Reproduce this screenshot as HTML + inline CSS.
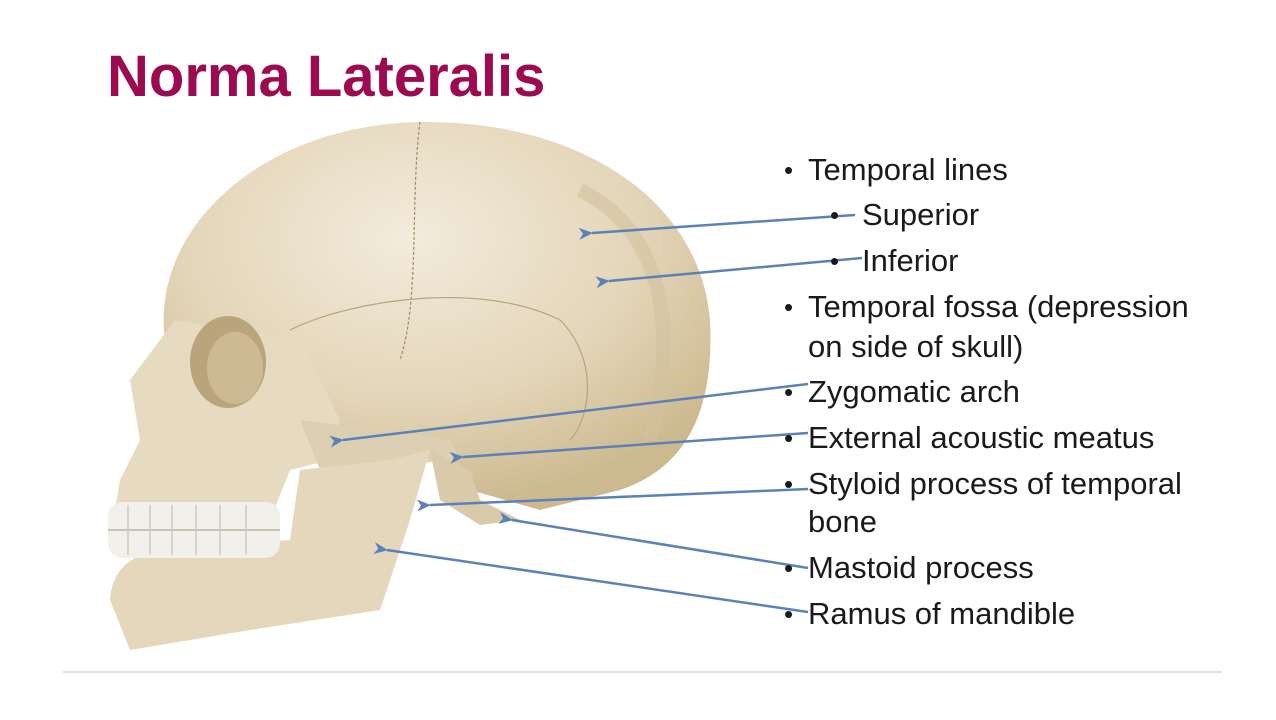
<!DOCTYPE html>
<html><head><meta charset="utf-8"><style>
body{margin:0;width:1276px;height:720px;background:#fff;overflow:hidden;position:relative;font-family:"Liberation Sans",sans-serif}
h1{position:absolute;left:107px;top:43px;margin:0;font-size:58px;font-weight:bold;color:#9c0a50;letter-spacing:0}
.t{position:absolute;font-size:31px;color:#1a1a1a;white-space:nowrap;line-height:34px}
.d{position:absolute;font-size:26px;color:#1a1a1a;line-height:26px}
</style></head><body>
<h1>Norma Lateralis</h1>
<svg width="1276" height="720" style="position:absolute;left:0;top:0">
<defs>
<radialGradient id="g" cx="0.45" cy="0.3" r="0.7"><stop offset="0" stop-color="#f3ebdc"/><stop offset="0.6" stop-color="#e3d5b8"/><stop offset="1" stop-color="#cdb98f"/></radialGradient>
<marker id="a" markerWidth="14" markerHeight="12" refX="1" refY="6" orient="auto-start-reverse" markerUnits="userSpaceOnUse"><path d="M0,6 L14,0 L10,6 L14,12Z" fill="#5b82b8"/></marker>
</defs>
<path d="M165,340 C150,230 260,125 420,122 C580,120 700,200 710,320 C715,420 680,470 620,490 L540,510 L470,490 L420,450 L300,440 Z" fill="url(#g)"/>
<path d="M420,122 C410,200 420,300 400,360" stroke="#a08a60" stroke-width="1.2" fill="none" stroke-dasharray="3,2"/>
<path d="M290,330 C350,300 480,280 560,320 C600,360 590,420 570,440" stroke="#b8a47c" stroke-width="1.2" fill="none"/>
<path d="M580,190 C660,230 680,320 650,440" stroke="#d2c29e" stroke-width="14" fill="none" opacity="0.6"/>
<path d="M175,320 L300,340 L340,420 L330,460 L290,470 L270,520 L110,540 L120,480 L140,440 L130,380 Z" fill="#e6dac0"/>
<ellipse cx="228" cy="362" rx="38" ry="46" fill="#b9a47c"/>
<ellipse cx="235" cy="368" rx="28" ry="36" fill="#cdb994"/>
<path d="M300,420 L450,440 L460,460 L320,470Z" fill="#ddcfb2"/>
<path d="M430,450 L470,470 L480,500 L520,520 L480,525 L440,500 Z" fill="#d9caa9"/>
<path d="M110,600 C112,570 130,555 160,550 L290,540 L300,470 L390,460 L430,450 L410,520 L390,580 L380,610 L250,630 L130,650 Z" fill="#e4d7bb"/>
<rect x="108" y="502" width="172" height="56" rx="14" fill="#f2f0ea"/>
<path d="M108,530 L280,530" stroke="#c9c3b4" stroke-width="2"/>
<g stroke="#cfc9ba" stroke-width="1.5"><path d="M128,505V555M150,505V555M172,505V555M196,505V555M220,505V555M246,505V555"/></g>
<g stroke="#5b82b8" stroke-width="2.5" fill="none" marker-start="url(#a)">
<path d="M592,233 L855,215"/>
<path d="M609,281 L862,258"/>
<path d="M343,440 L808,384"/>
<path d="M463,457 L808,433"/>
<path d="M430,505 L808,489"/>
<path d="M512,520 L808,568"/>
<path d="M387,550 L808,612"/>
</g>
<line x1="63" y1="672" x2="1222" y2="672" stroke="#cbc2a8" stroke-width="1"/>
</svg>
<div class="d" style="left:784px;top:157px">•</div><div class="t" style="left:808px;top:153px">Temporal lines</div>
<div class="d" style="left:830px;top:202px">•</div><div class="t" style="left:862px;top:198px">Superior</div>
<div class="d" style="left:830px;top:248px">•</div><div class="t" style="left:862px;top:244px">Inferior</div>
<div class="d" style="left:784px;top:294px">•</div><div class="t" style="left:808px;top:290px">Temporal fossa (depression</div>
<div class="t" style="left:808px;top:330px">on side of skull)</div>
<div class="d" style="left:784px;top:379px">•</div><div class="t" style="left:808px;top:375px">Zygomatic arch</div>
<div class="d" style="left:784px;top:425px">•</div><div class="t" style="left:808px;top:421px">External acoustic meatus</div>
<div class="d" style="left:784px;top:471px">•</div><div class="t" style="left:808px;top:467px">Styloid process of temporal</div>
<div class="t" style="left:808px;top:505px">bone</div>
<div class="d" style="left:784px;top:555px">•</div><div class="t" style="left:808px;top:551px">Mastoid process</div>
<div class="d" style="left:784px;top:601px">•</div><div class="t" style="left:808px;top:597px">Ramus of mandible</div>
</body></html>
